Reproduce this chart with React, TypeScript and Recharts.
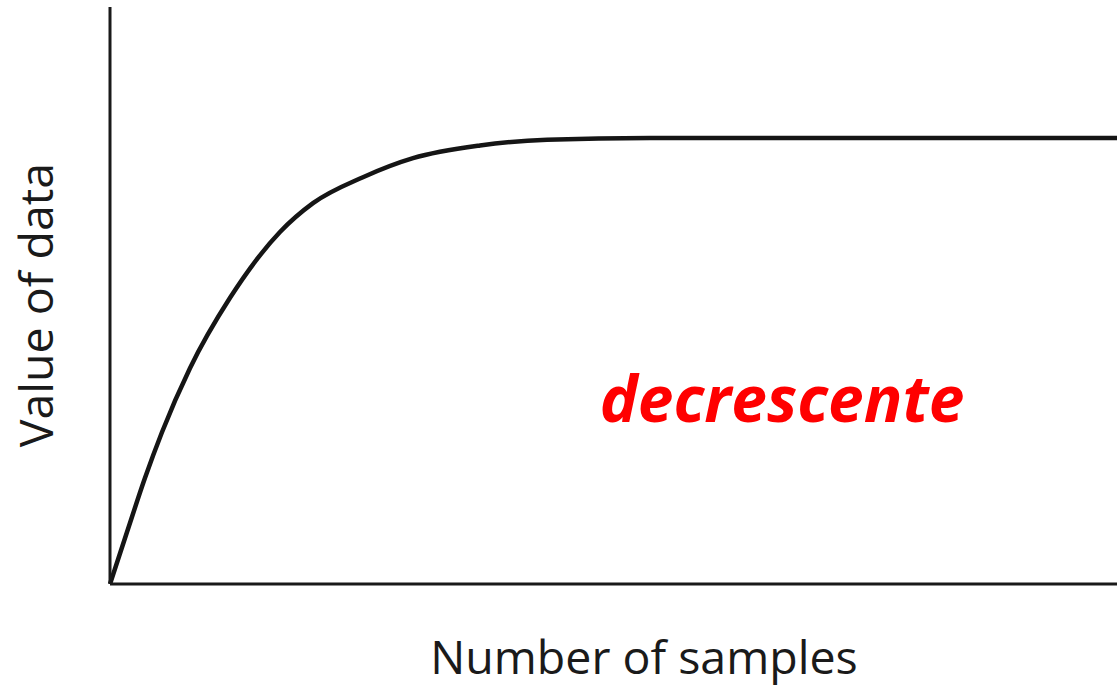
import React from "react";
import { LineChart, Line, XAxis, YAxis, Customized } from "recharts";

const samples = [0, 1.69, 3.48, 5.16, 7.94, 11.92, 16.88, 20.16, 25.12, 30.09, 36.74, 43.4, 53.62, 68.52, 88.38, 100];
const values = [0, 9.0, 18.4, 26.3, 37.4, 49.6, 61.0, 66.0, 70.5, 73.8, 76.0, 77.0, 77.3, 77.3, 77.3, 77.3];
const xLabel = "Number of samples";
const yLabel = "Value of data";
const annotation = "decrescente";

const data = samples.map((s, i) => ({ x: s, y: values[i] }));

const FONT = "'Open Sans', sans-serif";

const Texts = () => (
  <g>
    <text
      x={782}
      y={422}
      textAnchor="middle"
      fill="#ff0000"
      fontFamily={FONT}
      fontWeight={700}
      fontStyle="italic"
      fontSize={64}
    >
      {annotation}
    </text>
    <text x={644} y={674} textAnchor="middle" fill="#1a1a1a" fontFamily={FONT} fontSize={46.5}>
      {xLabel}
    </text>
    <text
      x={53}
      y={305}
      textAnchor="middle"
      fill="#1a1a1a"
      fontFamily={FONT}
      fontSize={46.5}
      transform="rotate(-90 53 305)"
    >
      {yLabel}
    </text>
  </g>
);

export default function App() {
  return (
    <div style={{ position: "absolute", left: 0, top: 0, width: 1117, height: 687, background: "#fff" }}>
      <LineChart
        width={1117}
        height={687}
        data={data}
        margin={{ top: 7, right: 0, bottom: 102, left: 109 }}
      >
        <XAxis
          dataKey="x"
          type="number"
          domain={[0, 100]}
          height={1}
          tick={false}
          tickLine={false}
          axisLine={{ stroke: "#1a1a1a", strokeWidth: 3 }}
        />
        <YAxis
          type="number"
          domain={[0, 100]}
          width={1}
          tick={false}
          tickLine={false}
          axisLine={{ stroke: "#1a1a1a", strokeWidth: 3 }}
        />
        <Line
          type="monotone"
          dataKey="y"
          stroke="#151515"
          strokeWidth={4.5}
          dot={false}
          isAnimationActive={false}
        />
        <Customized component={Texts} />
      </LineChart>
    </div>
  );
}
